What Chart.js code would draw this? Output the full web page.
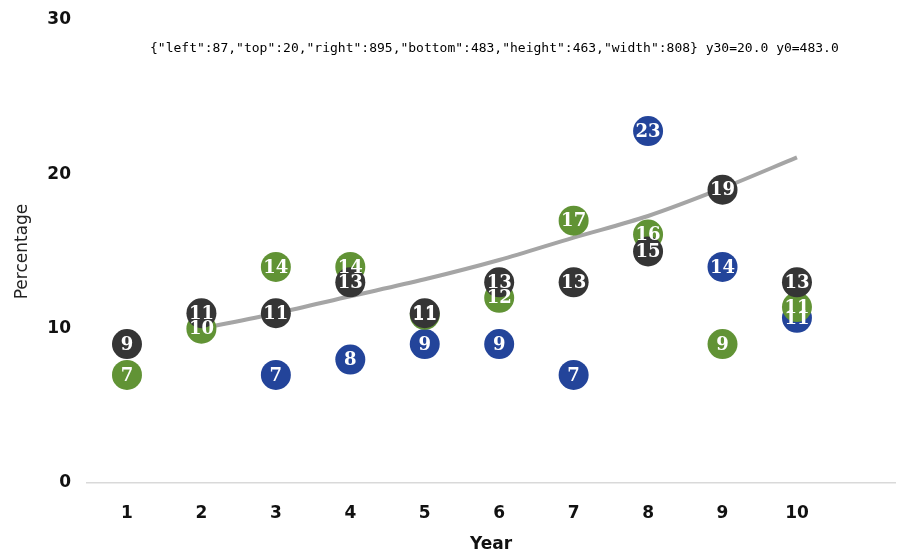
<!DOCTYPE html>
<html>
<head>
<meta charset="utf-8">
<script src="https://cdn.jsdelivr.net/npm/chart.js@4"></script>
<style>
  html, body { margin: 0; padding: 0; background: #fff; }
  #wrap { width: 899px; height: 555px; position: relative; }
  #dbg { position: absolute; left: 150px; top: 40px; font: 13px monospace; }
</style>
</head>
<body>
<div id="wrap"><canvas id="chart"></canvas><div id="dbg"></div></div>
<script>
// --- data ---
const years = [1, 2, 3, 4, 5, 6, 7, 8, 9, 10];
const blueVals = [null, null, 7, 8, 9, 9, 7, 22.8, 14, 10.7];
const greenVals = [7, 10, 14, 14, 10.9, 12, 17, 16.1, 9, 11.4];
const darkVals = [9, 11, 11, 13, 11, 13, 13, 15, 19, 13];
const trendVals = [null, 10, 11, 12.1, 13.2, 14.45, 15.9, 17.3, 19.1, 21.1];
const yTicks = [0, 10, 20, 30];

const toPoints = vals => years.map((x, i) => ({ x: x, y: vals[i] })).filter(p => p.y !== null);

// circle labels
const labelPlugin = {
  id: "circleLabels",
  afterDatasetsDraw(chart) {
    const ctx = chart.ctx;
    ctx.save();
    ctx.font = "bold 18px 'DejaVu Serif'";
    ctx.fillStyle = "#fff";
    ctx.textAlign = "center";
    ctx.textBaseline = "middle";
    [0, 1, 2].forEach(di => {
      const meta = chart.getDatasetMeta(di);
      const ds = chart.data.datasets[di];
      meta.data.forEach((pt, i) => {
        ctx.fillText(String(Math.round(ds.data[i].y)), pt.x, pt.y + 1);
      });
    });
    ctx.restore();
  }
};

const ctx = document.getElementById("chart").getContext("2d");
const chart = new Chart(ctx, {
  type: "scatter",
  data: {
    datasets: [
      { label: "A", data: toPoints(blueVals), backgroundColor: "#23449a", borderWidth: 0, pointRadius: 15, order: 3 },
      { label: "B", data: toPoints(greenVals), backgroundColor: "#619335", borderWidth: 0, pointRadius: 15, order: 2 },
      { label: "C", data: toPoints(darkVals), backgroundColor: "#353535", borderWidth: 0, pointRadius: 15, order: 1 },
      { label: "Trend", type: "line", data: toPoints(trendVals), borderColor: "#a5a5a5", borderWidth: 4,
        pointRadius: 0, showLine: true, tension: 0.4, cubicInterpolationMode: "monotone", order: 10 }
    ]
  },
  options: {
    animation: false,
    responsive: true,
    maintainAspectRatio: false,
    layout: { autoPadding: false, padding: { top: 20, right: 4, left: 0, bottom: 0 } },
    scales: {
      x: {
        type: "linear", min: 0.463, max: 11.317,
        afterBuildTicks: s => { s.ticks = years.map(v => ({ value: v })); },
        afterFit: s => { s.height = 72; },
        grid: { display: false, drawTicks: false },
        border: { display: true, color: "#d9d9d9", width: 1.5 },
        ticks: { padding: 20, color: "#111", font: { family: "DejaVu Sans", weight: "bold", size: 17 } },
        title: { display: true, text: "Year", color: "#111", padding: { top: 4, bottom: 0 },
                 font: { family: "DejaVu Sans", weight: "bold", size: 17 } }
      },
      y: {
        min: 0, max: 30,
        afterBuildTicks: s => { s.ticks = yTicks.map(v => ({ value: v })); },
        afterFit: s => { s.width = 87; s.paddingTop = 0; s.paddingBottom = 0; },
        grid: { display: false, drawTicks: false },
        border: { display: false },
        ticks: { padding: 16, color: "#111", font: { family: "DejaVu Sans", weight: "bold", size: 17 } },
        title: { display: true, text: "Percentage", color: "#222", padding: { top: 12, bottom: 0 },
                 font: { family: "DejaVu Sans", size: 17 } }
      }
    },
    plugins: { legend: { display: false }, tooltip: { enabled: false } }
  },
  plugins: [labelPlugin]
});
document.getElementById("dbg").textContent = JSON.stringify(chart.chartArea) +
  " y30=" + chart.scales.y.getPixelForValue(30).toFixed(1) + " y0=" + chart.scales.y.getPixelForValue(0).toFixed(1);
</script>
</body>
</html>
